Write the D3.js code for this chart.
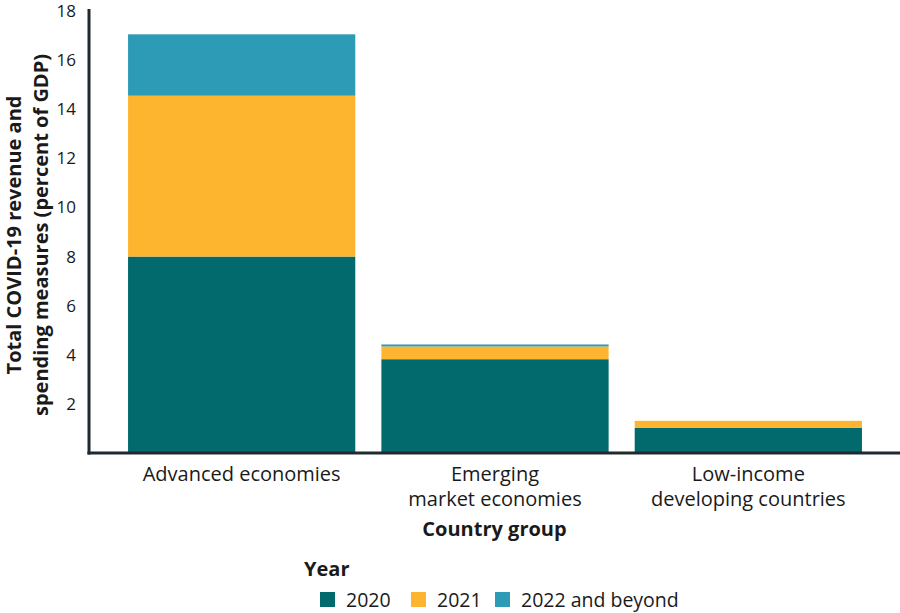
<!DOCTYPE html>
<html lang="en">
<head>
    <meta charset="UTF-8">
    <script src="https://cdn.jsdelivr.net/npm/d3@7"></script>
    <title>COVID-19 measures</title>
    <style>
        body { margin: 0; background: #fff; }
        text { font-family: "Open Sans", Lato, sans-serif; fill: #1a1a1a; }
    </style>
</head>
<body>
    <svg width="900" height="613"></svg>
    <script>
        // data
        const groups = ['Advanced economies', 'Emerging market economies', 'Low-income developing countries'];
        const groupLines = [['Advanced economies'], ['Emerging', 'market economies'], ['Low-income', 'developing countries']];
        const years = ['2020', '2021', '2022 and beyond'];
        const v2020 = [8.0, 3.82, 1.02];
        const v2021 = [6.55, 0.52, 0.29];
        const v2022 = [2.5, 0.08, 0.0];
        const yTicks = [2, 4, 6, 8, 10, 12, 14, 16, 18];
        const colors = ['#02696d', '#fdb52f', '#2e9bb6'];

        const svg = d3.select('svg');

        const axisLeft = 89, axisRight = 900, yTop = 11, yBottom = 453;

        const rows = groups.map((g, i) => ({ group: g, '2020': v2020[i], '2021': v2021[i], '2022 and beyond': v2022[i] }));
        const stacked = d3.stack().keys(years)(rows);

        const x = d3.scaleBand()
            .domain(groups)
            .range([115, 875])
            .paddingInner(0.103)
            .paddingOuter(0.0515);

        const y = d3.scaleLinear()
            .domain([0, 18])
            .range([yBottom, yTop]);

        const color = d3.scaleOrdinal().domain(years).range(colors);

        // bars
        svg.append('g')
            .selectAll('g')
            .data(stacked)
            .join('g')
            .attr('fill', d => color(d.key))
            .selectAll('rect')
            .data(d => d)
            .join('rect')
            .attr('x', d => x(d.data.group))
            .attr('width', x.bandwidth())
            .attr('y', d => y(d[1]))
            .attr('height', d => y(d[0]) - y(d[1]));

        // y axis
        const yAxis = svg.append('g')
            .attr('transform', `translate(${axisLeft},0)`)
            .call(d3.axisLeft(y).tickValues(yTicks).tickSize(0).tickPadding(13));
        yAxis.select('.domain').remove();
        yAxis.selectAll('text')
            .style('font-family', '"Open Sans", sans-serif')
            .style('font-size', '17px')
            .attr('fill', '#1a1a1a');

        svg.append('line')
            .attr('x1', axisLeft).attr('x2', axisLeft)
            .attr('y1', 9).attr('y2', yBottom + 1.5)
            .attr('stroke', '#1f2a30').attr('stroke-width', 3);

        // x axis
        svg.append('line')
            .attr('x1', axisLeft - 1.5).attr('x2', axisRight)
            .attr('y1', yBottom).attr('y2', yBottom)
            .attr('stroke', '#1f2a30').attr('stroke-width', 3);

        const xLab = svg.append('g');
        groups.forEach((g, i) => {
            const t = xLab.append('text')
                .attr('x', x(g) + x.bandwidth() / 2)
                .attr('y', 481)
                .attr('text-anchor', 'middle')
                .style('font-size', '20px');
            groupLines[i].forEach((line, j) => {
                t.append('tspan')
                    .attr('x', x(g) + x.bandwidth() / 2)
                    .attr('dy', j === 0 ? 0 : 25)
                    .text(line);
            });
        });

        svg.append('text')
            .attr('x', (axisLeft + axisRight) / 2)
            .attr('y', 536)
            .attr('text-anchor', 'middle')
            .style('font-size', '20px')
            .style('font-weight', 'bold')
            .text('Country group');

        // y title
        const yt = svg.append('text')
            .attr('transform', 'translate(21,235) rotate(-90)')
            .attr('text-anchor', 'middle')
            .style('font-size', '20px')
            .style('font-weight', 'bold');
        yt.append('tspan').attr('x', 0).attr('dy', 0).text('Total COVID-19 revenue and');
        yt.append('tspan').attr('x', 0).attr('dy', 27).text('spending measures (percent of GDP)');

        // legend
        svg.append('text')
            .attr('x', 304).attr('y', 576)
            .style('font-size', '20px')
            .style('font-weight', 'bold')
            .text('Year');

        const legendX = [320, 411, 495];
        const leg = svg.append('g')
            .selectAll('g')
            .data(years)
            .join('g')
            .attr('transform', (d, i) => `translate(${legendX[i]},592)`);
        leg.append('rect')
            .attr('width', 15).attr('height', 15)
            .attr('fill', d => color(d));
        leg.append('text')
            .attr('x', 26).attr('y', 15)
            .style('font-size', '19.5px')
            .text(d => d);
    </script>
</body>
</html>
